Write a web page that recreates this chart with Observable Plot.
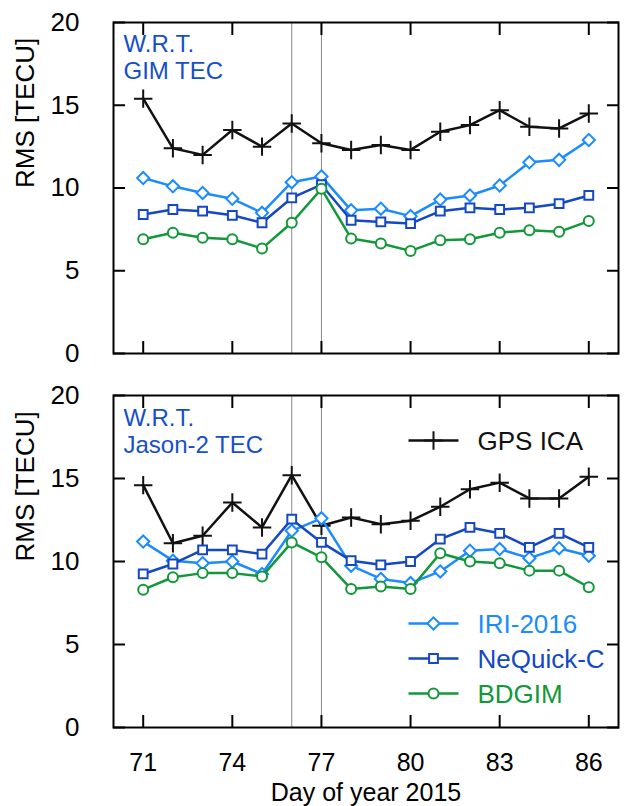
<!DOCTYPE html>
<html><head><meta charset="utf-8">
<script src="https://cdn.jsdelivr.net/npm/d3@7"></script>
<script src="https://cdn.jsdelivr.net/npm/@observablehq/plot@0.6"></script>
<style>body{margin:0;background:#fff} #chart{width:635px} #chart svg{display:block}</style>
</head><body><div id="chart"></div>
<script>
const days = [71,72,73,74,75,76,77,78,79,80,81,82,83,84,85,86];
const models = ["GPS ICA", "IRI-2016", "NeQuick-C", "BDGIM"];
const xTicks = [71,74,77,80,83,86];
const yTicks = [0,5,10,15,20];
const stormDays = [76,77];

// Panel 1: w.r.t. GIM TEC
const gimGPS = [15.4,12.4,12.0,13.5,12.5,13.9,12.7,12.3,12.6,12.3,13.4,13.8,14.7,13.7,13.6,14.5];
const gimIRI = [10.6,10.1,9.7,9.35,8.5,10.35,10.7,8.65,8.75,8.3,9.3,9.55,10.15,11.55,11.7,12.9];
const gimNeQ = [8.4,8.7,8.6,8.35,7.9,9.4,10.2,8.05,7.95,7.85,8.6,8.8,8.7,8.8,9.05,9.55];
const gimBDG = [6.9,7.3,7.0,6.9,6.35,7.9,9.95,6.95,6.65,6.2,6.85,6.9,7.3,7.45,7.35,8.0];

// Panel 2: w.r.t. Jason-2 TEC
const jasGPS = [14.6,11.1,11.55,13.55,12.05,15.2,12.15,12.65,12.25,12.45,13.3,14.35,14.75,13.8,13.8,15.1];
const jasIRI = [11.2,10.05,9.9,10.0,9.25,11.85,12.6,9.75,8.95,8.7,9.4,10.65,10.75,10.2,10.8,10.35];
const jasNeQ = [9.25,9.85,10.7,10.7,10.45,12.55,11.15,10.05,9.8,10.0,11.35,12.05,11.7,10.85,11.7,10.85];
const jasBDG = [8.3,9.05,9.3,9.3,9.1,11.15,10.25,8.35,8.5,8.35,10.5,10.0,9.9,9.45,9.45,8.45];

const colors = {"GPS ICA": "#111111", "IRI-2016": "#1a8cff", "NeQuick-C": "#1448c4", "BDGIM": "#12983a"};
const symbols = {"GPS ICA": "plus", "IRI-2016": "diamond2", "NeQuick-C": "square2", "BDGIM": "circle"};
const radii = {"GPS ICA": 6, "IRI-2016": 5.5, "NeQuick-C": 5.6, "BDGIM": 5};
const FONT = "Liberation Sans, Arial, Helvetica, sans-serif";

function rows(series) {
  const out = [];
  models.forEach((m, k) => days.forEach((d, i) => out.push({day: d, model: m, rms: series[k][i]})));
  return out;
}
const lineSym = {draw(ctx) { ctx.moveTo(-25, 0); ctx.lineTo(25, 0); }};

function panel({series, note, noteColor, height, marginTop, marginBottom, showX, legend}) {
  const data = rows(series);
  const marks = [
    Plot.ruleX(stormDays, {stroke: "#888", strokeWidth: 1})
  ];
  for (const m of models) {
    const d = data.filter(r => r.model === m);
    marks.push(Plot.line(d, {x: "day", y: "rms", stroke: colors[m], strokeWidth: 2.5}));
    marks.push(Plot.dot(d, {x: "day", y: "rms", symbol: symbols[m], r: radii[m],
      stroke: colors[m], strokeWidth: 2, fill: m === "GPS ICA" ? "none" : "white"}));
  }
  marks.push(
    Plot.frame({stroke: "#000", strokeWidth: 2}),
    Plot.axisY(yTicks, {anchor: "left", tickSize: -12, strokeWidth: 2, tickFormat: () => "", label: null}),
    Plot.axisY(yTicks, {anchor: "right", tickSize: -12, strokeWidth: 2, tickFormat: () => "", label: null}),
    Plot.axisX(xTicks, {anchor: "top", tickSize: -12, strokeWidth: 2, tickFormat: () => "", label: null}),
    Plot.axisX(xTicks, {anchor: "bottom", tickSize: -12, strokeWidth: 2, tickFormat: () => "", label: null}),
    Plot.axisY(yTicks, {anchor: "left", tickSize: 0, tickPadding: 34, fontSize: 26, label: null}),
    Plot.text(["RMS [TECU]"], {frameAnchor: "left", dx: -88, rotate: -90, fontSize: 26, fill: "#000"}),
    Plot.text([note], {frameAnchor: "top-left", dx: 10, dy: note.includes("Jason") ? 57 : 56,
      lineAnchor: "bottom", textAnchor: "start", lineHeight: 1.1, fontSize: 24, fill: noteColor})
  );
  if (showX) {
    marks.push(
      Plot.axisX(xTicks, {anchor: "bottom", tickSize: 0, tickPadding: 26, fontSize: 25, label: null}),
      Plot.text(["Day of year 2015"], {frameAnchor: "bottom", dy: 73, lineAnchor: "bottom", fontSize: 25, fill: "#000"})
    );
  }
  if (legend) {
    for (const it of legend) {
      const fa = it.top ? "top-right" : "bottom-right";
      marks.push(
        Plot.dot([it.model], {frameAnchor: fa, dx: -185, dy: it.dy, symbol: lineSym, stroke: colors[it.model], strokeWidth: 2.5}),
        Plot.dot([it.model], {frameAnchor: fa, dx: -185, dy: it.dy, symbol: symbols[it.model], r: radii[it.model],
          stroke: colors[it.model], strokeWidth: 2, fill: it.model === "GPS ICA" ? "none" : "white"}),
        Plot.text([it.model], {frameAnchor: fa, dx: -141, dy: it.dy + 9, lineAnchor: "bottom", textAnchor: "start",
          fontSize: 26, fill: colors[it.model]})
      );
    }
  }
  return Plot.plot({
    width: 635, height, marginLeft: 113, marginRight: 17, marginTop, marginBottom,
    style: {fontFamily: FONT, fontSize: "26px", color: "#000", background: "#fff"},
    x: {domain: [70, 87], axis: null},
    y: {domain: [0, 20], axis: null},
    marks
  });
}

const topPanel = panel({series: [gimGPS, gimIRI, gimNeQ, gimBDG], note: "W.R.T.\nGIM TEC", noteColor: "#1650c8",
  height: 374, marginTop: 22, marginBottom: 21, showX: false});
const bottomPanel = panel({series: [jasGPS, jasIRI, jasNeQ, jasBDG], note: "W.R.T.\nJason-2 TEC", noteColor: "#1650c8",
  height: 432, marginTop: 21, marginBottom: 79, showX: true,
  legend: [
    {model: "GPS ICA", top: true, dy: 45},
    {model: "IRI-2016", top: false, dy: -104},
    {model: "NeQuick-C", top: false, dy: -69},
    {model: "BDGIM", top: false, dy: -34}
  ]});
document.getElementById("chart").append(topPanel, bottomPanel);
</script>
</body></html>
